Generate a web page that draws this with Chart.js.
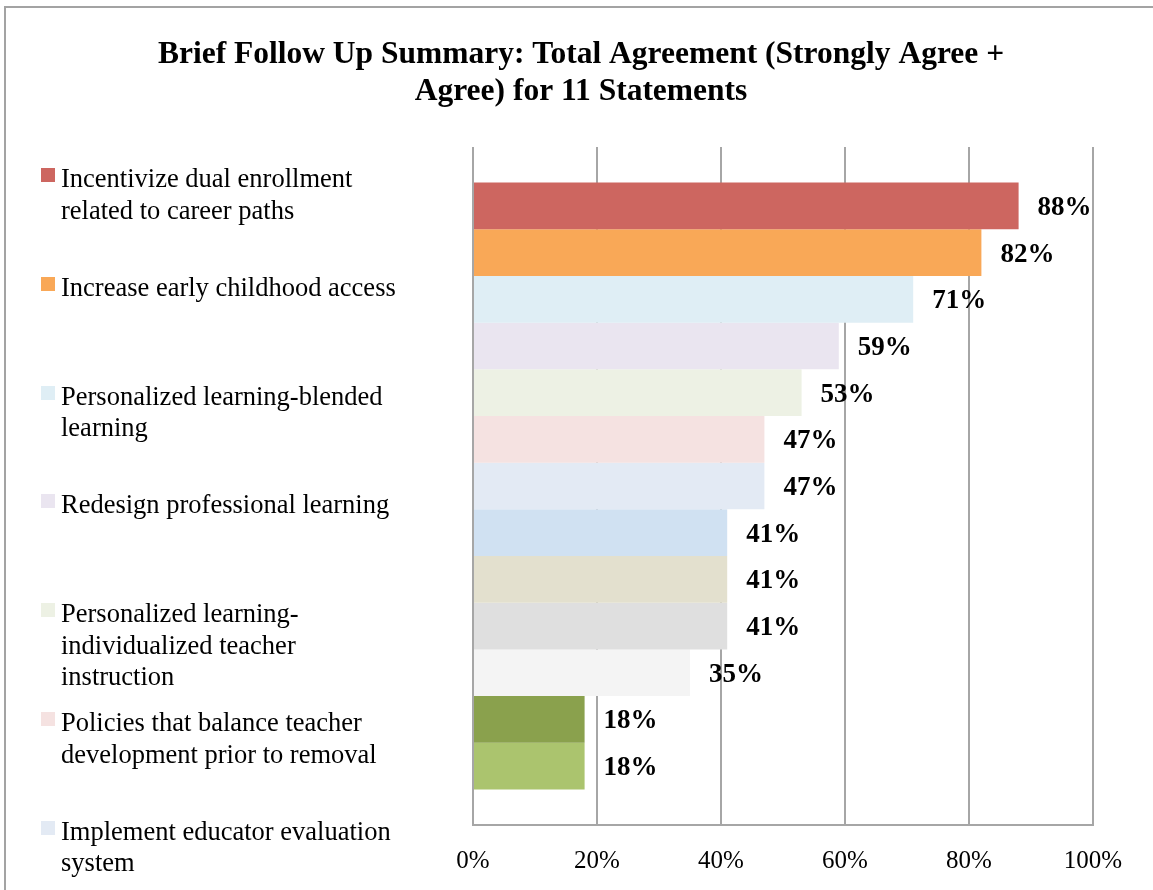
<!DOCTYPE html>
<html>
<head>
<meta charset="utf-8">
<script src="https://cdn.jsdelivr.net/npm/chart.js@4/dist/chart.umd.min.js"></script>
<style>
  body { margin: 0; background: #fff; }
  #wrap { position: relative; width: 1153px; height: 890px; overflow: hidden; }
  #frame { position: absolute; left: 4px; top: 6px; width: 1200px; height: 950px; border: 2px solid #a3a3a3; box-sizing: border-box; }
  #legend { position: absolute; left: 41px; top: 163px; font-family: "Liberation Serif", "Times New Roman", serif; font-size: 26.5px; color: #000; }
  .item { position: absolute; left: 0; width: 380px; height: 108.8px; }
  .item i { position: absolute; left: 0; top: 5px; width: 14px; height: 14px; }
  .item span { position: absolute; left: 20px; top: 0; line-height: 31.5px; white-space: nowrap; }
  canvas { position: absolute; left: 0; top: 0; }
</style>
</head>
<body>
<div id="wrap">
  <canvas id="chart" width="1153" height="890"></canvas>
  <div id="frame"></div>
  <div id="legend"></div>
</div>
<script>
// statements (only the first seven fit in the legend box), line breaks as shown
const statements = [
  ["Incentivize dual enrollment", "related to career paths"],
  ["Increase early childhood access"],
  ["Personalized learning-blended", "learning"],
  ["Redesign professional learning"],
  ["Personalized learning-", "individualized teacher", "instruction"],
  ["Policies that balance teacher", "development prior to removal"],
  ["Implement educator evaluation", "system"]
];
const agreement = [88, 82, 71, 59, 53, 47, 47, 41, 41, 41, 35, 18, 18];
const barColors = [
  "#cd6660", "#f9a857", "#dfeef5", "#eae5f0", "#edf1e4", "#f5e2e1", "#e3eaf4",
  "#d0e1f2", "#e3e0ce", "#dfdfdf", "#f4f4f4", "#8aa14d", "#abc46e"
];
const xTicks = [0, 20, 40, 60, 80, 100];

const serif = '"Liberation Serif", "Times New Roman", serif';

const datasets = agreement.map((v, i) => ({
  label: statements[i] ? statements[i].join(" ") : "",
  data: [v],
  backgroundColor: barColors[i],
  borderWidth: 0,
  barPercentage: 1,
  categoryPercentage: 0.895
}));

// bold percentage written just past the end of each bar
const valueLabels = {
  id: "valueLabels",
  afterDatasetsDraw(chart) {
    const ctx = chart.ctx;
    ctx.save();
    ctx.font = "bold 27px " + serif;
    ctx.fillStyle = "#000";
    ctx.textAlign = "left";
    ctx.textBaseline = "middle";
    chart.data.datasets.forEach((ds, i) => {
      const bar = chart.getDatasetMeta(i).data[0];
      ctx.fillText(ds.data[0] + "%", bar.x + 19, bar.y + 2);
    });
    ctx.restore();
  }
};

const chart = new Chart(document.getElementById("chart"), {
  type: "bar",
  data: { labels: [""], datasets },
  options: {
    indexAxis: "y",
    responsive: false,
    animation: false,
    layout: { padding: { left: 69, right: 60, top: 0, bottom: 0 } },
    plugins: {
      legend: { display: false },
      tooltip: { enabled: false },
      title: {
        display: true,
        text: ["Brief Follow Up Summary: Total Agreement (Strongly Agree +", "Agree) for 11 Statements"],
        color: "#000",
        font: { family: serif, size: 31.5, weight: "bold", lineHeight: 1.175 },
        padding: { top: 36.5, bottom: 36.5 }
      }
    },
    scales: {
      x: {
        min: 0,
        max: 100,
        afterBuildTicks: s => { s.ticks = xTicks.map(v => ({ value: v })); },
        afterFit: s => { s.height = 65; },
        ticks: {
          color: "#000",
          font: { family: serif, size: 25 },
          padding: 21,
          callback: v => v + "%"
        },
        grid: { color: "#a6a6a6", lineWidth: 2, drawTicks: false },
        border: { color: "#a6a6a6", width: 2 }
      },
      y: {
        afterFit: s => { s.width = 404; },
        ticks: { display: false },
        grid: { display: false },
        border: { display: false }
      }
    }
  },
  plugins: [valueLabels]
});

// legend built from the dataset labels and colours
const legend = document.getElementById("legend");
chart.data.datasets.forEach((ds, i) => {
  if (!statements[i]) return;
  const item = document.createElement("div");
  item.className = "item";
  item.style.top = (i * 108.8) + "px";
  item.innerHTML = `<i style="background:${ds.backgroundColor}"></i><span>${statements[i].join("<br>")}</span>`;
  legend.appendChild(item);
});
</script>
</body>
</html>
